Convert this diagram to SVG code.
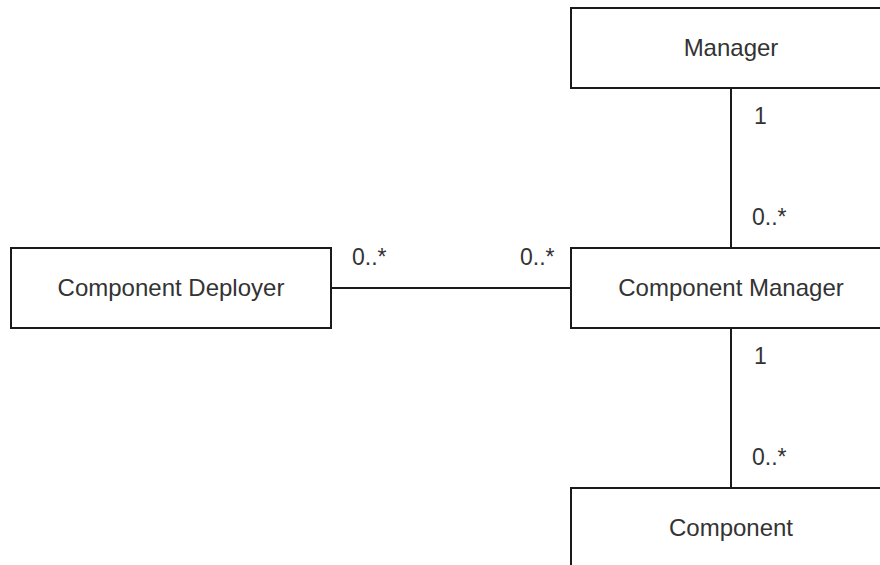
<svg xmlns="http://www.w3.org/2000/svg" width="880" height="565" viewBox="0 0 880 565">
  <style>
    .box { fill: #ffffff; stroke: #1a1a1a; stroke-width: 2; }
    .edge { fill: none; stroke: #1a1a1a; stroke-width: 2; }
    .label { font-family: "Liberation Sans", Arial, sans-serif; font-size: 24px; fill: #333333; text-anchor: middle; }
    .mult { font-family: "Liberation Sans", Arial, sans-serif; font-size: 23px; fill: #333333; }
  </style>
  <rect width="880" height="565" fill="#ffffff"/>

  <g id="connectors">
    <line class="edge" x1="731" y1="88" x2="731" y2="248"/>
    <line class="edge" x1="331" y1="288" x2="571" y2="288"/>
    <line class="edge" x1="731" y1="328" x2="731" y2="488"/>
    <text class="mult" x="754" y="124">1</text>
    <text class="mult" x="752" y="225">0..*</text>
    <text class="mult" x="352" y="265">0..*</text>
    <text class="mult" x="520" y="265">0..*</text>
    <text class="mult" x="754" y="364">1</text>
    <text class="mult" x="752" y="465">0..*</text>
  </g>

  <g id="manager">
    <rect class="box" x="571" y="8" width="320" height="80"/>
    <text class="label" x="731" y="56">Manager</text>
  </g>

  <g id="component-deployer">
    <rect class="box" x="11" y="248" width="320" height="80"/>
    <text class="label" x="171" y="296">Component Deployer</text>
  </g>

  <g id="component-manager">
    <rect class="box" x="571" y="248" width="320" height="80"/>
    <text class="label" x="731" y="296">Component Manager</text>
  </g>

  <g id="component">
    <rect class="box" x="571" y="488" width="320" height="80"/>
    <text class="label" x="731" y="536">Component</text>
  </g>
</svg>
